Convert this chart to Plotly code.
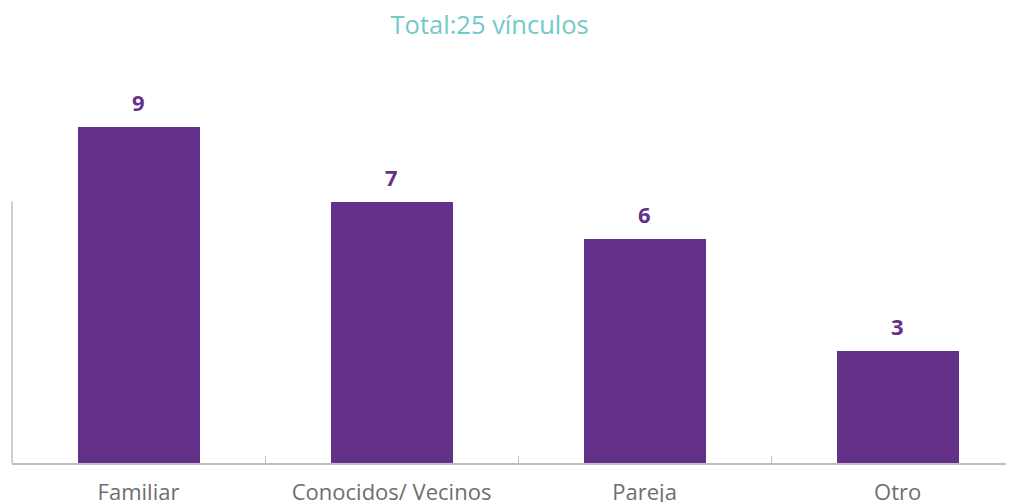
import plotly.graph_objects as go

categories = ["Familiar", "Conocidos/ Vecinos", "Pareja", "Otro"]
values = [9, 7, 6, 3]
title_text = "Total:25 vínculos"
axis_line_top = 7

PURPLE = "#63318A"
fig = go.Figure()
fig.add_trace(go.Bar(
    x=categories, y=values, width=0.482,
    marker=dict(color=PURPLE, line=dict(width=0)),
    hoverinfo="x+y",
))
for c, v in zip(categories, values):
    fig.add_annotation(x=c, y=v, text="<b>%d</b>" % v, showarrow=False,
                       yanchor="middle", yshift=25,
                       font=dict(family="Open Sans", size=22, color=PURPLE))
fig.add_shape(type="line", xref="paper", yref="y", x0=0, x1=0, y0=0, y1=axis_line_top,
              line=dict(color="#BFBFBF", width=1.5))
fig.update_layout(
    width=1014, height=502,
    margin=dict(l=4, r=9, t=52, b=47),
    paper_bgcolor="white", plot_bgcolor="white",
    showlegend=False,
    title=dict(text=title_text, x=0.475, xanchor="center", y=1 - 17/502, yanchor="middle",
               font=dict(family="Open Sans", size=25.5, color="#72C9C9")),
    xaxis=dict(range=[-0.5, 3.456], showline=True, linecolor="#BFBFBF", linewidth=1.5,
               ticks="inside", tickson="boundaries", ticklen=7, tickcolor="#BFBFBF",
               ticklabelstandoff=9,
               tickfont=dict(family="Open Sans", size=22, color="#6E6E6E"), showgrid=False),
    yaxis=dict(range=[0, 403/37.33], visible=False, showgrid=False),
    bargap=0,
)
fig.write_html("out.html")
